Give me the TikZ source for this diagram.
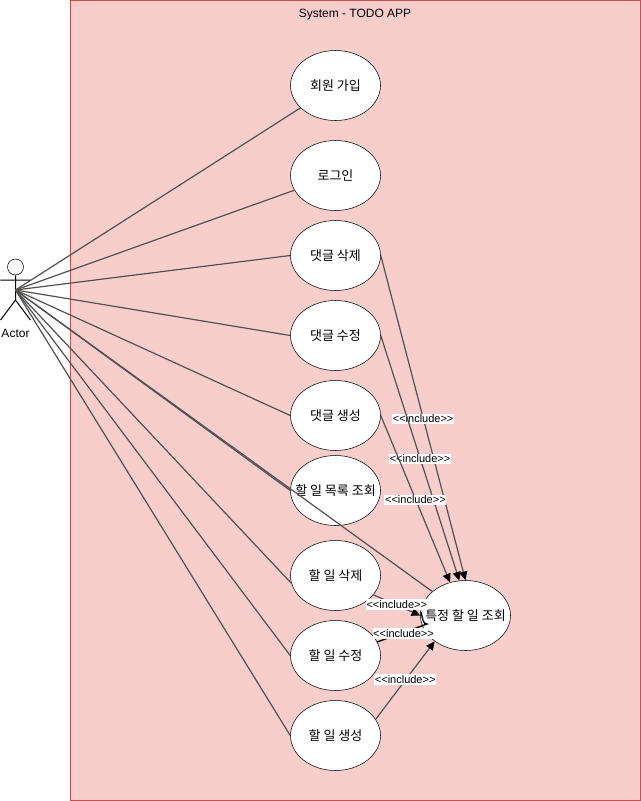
\documentclass[tikz,border=0pt]{standalone}
\usepackage{fontspec}
\setmainfont{Liberation Sans}
\newfontfamily\krfont{Noto Sans CJK KR}
\usetikzlibrary{arrows.meta,shapes.geometric}
\definecolor{sysfill}{HTML}{F8CECC}
\definecolor{sysline}{HTML}{C94F4F}
\definecolor{edgeline}{HTML}{555050}
\newcommand{\uctext}[1]{\makebox[0pt]{#1}}
\newcommand{\inclabel}{<{}<{}include>{}>}
\tikzset{
  usecase/.style={draw=black,fill=white,ellipse,minimum width=67.5pt,minimum height=52.5pt,inner sep=0pt,font=\krfont\fontsize{9.75}{11}\selectfont},
  actorline/.style={draw=edgeline,line width=0.9pt},
  includeline/.style={draw=edgeline,line width=0.9pt,-{Triangle[length=6.5pt,width=6pt,color=black]}},
  includelabel/.style={fill=white,inner xsep=0.5pt,inner ysep=1pt,font=\fontsize{8.25}{10}\selectfont},
}
\begin{document}
\begin{tikzpicture}[x=0.75pt,y=-0.75pt]
    \useasboundingbox (0,0) rectangle (641,801);
    \node[draw=sysline,fill=sysfill,line width=0.75pt,minimum width=427.5pt,minimum height=600pt,inner sep=0pt,anchor=north west] (system) at (70,0) {};
    \node[anchor=north,font=\fontsize{9}{11}\selectfont] (systitle) at (355,4) {System - TODO APP};

    % actor
    \coordinate (actor) at (15.5,290);
    \node[draw,circle,minimum size=12pt,inner sep=0pt,fill=white] (head) at (15.5,267) {};
    \coordinate (hip) at (15.5,300);
    \coordinate (arml) at (0.5,280);
    \coordinate (armr) at (30.5,280);
    \coordinate (legl) at (0.5,320);
    \coordinate (legr) at (30.5,320);
    \draw[line width=0.75pt] (head) -- (hip) (arml) -- (armr) (legl) -- (hip) -- (legr);
    \node[font=\fontsize{9}{11}\selectfont] (actorname) at (15.5,333) {Actor};

    % actor edges
    \node[usecase] (join) at (335.5,85.5) {\uctext{회원 가입}};
    \node[usecase] (login) at (335.5,175.5) {\uctext{로그인}};
    \node[usecase] (cdel) at (335.5,255.5) {\uctext{댓글 삭제}};
    \node[usecase] (cedit) at (335.5,335.5) {\uctext{댓글 수정}};
    \node[usecase] (cadd) at (335.5,415.5) {\uctext{댓글 생성}};
    \node[usecase] (tlist) at (335.5,490.5) {\uctext{할 일 목록 조회}};
    \node[usecase] (tdel) at (335.5,575.5) {\uctext{할 일 삭제}};
    \node[usecase] (tedit) at (335.5,655.5) {\uctext{할 일 수정}};
    \node[usecase] (tadd) at (335.5,735.5) {\uctext{할 일 생성}};
    \node[usecase] (tone) at (465.5,615.5) {\uctext{특정 할 일 조회}};

    \draw[actorline] (actor) -- (join);
    \draw[actorline] (actor) -- (login);
    \foreach \uc in {cdel,cedit,cadd,tlist,tedit,tadd}
        \draw[actorline] (actor) -- (\uc.west);
    \draw[actorline] (actor) -- (tdel.190);
    \draw[actorline] (actor) -- (tone);

    % include edges
    \draw[includeline] (cdel.east) -- node[includelabel,yshift=-0.75pt] (lab1) {\inclabel} (tone.north);
    \draw[includeline] (cedit.east) -- node[includelabel,yshift=-0.75pt] (lab2) {\inclabel} (tone.100);
    \draw[includeline] (cadd.east) -- node[includelabel,yshift=-0.75pt] (lab3) {\inclabel} (tone.115);
    \draw[includeline] (tdel.-27) -- node[includelabel,yshift=0.75pt] (lab4) {\inclabel} (tone.west);
    \coordinate (hook) at (421,612);
    \draw[draw=black,line width=1pt] (tedit.18) -- (427,624) .. controls (423,624) and (423,620) .. (hook);
    \node[includelabel] (lab5) at (403.5,633.5) {\inclabel};
    \draw[includeline] (tadd.22) -- node[includelabel,yshift=0.75pt] (lab6) {\inclabel} (tone.220);
\end{tikzpicture}
\end{document}
